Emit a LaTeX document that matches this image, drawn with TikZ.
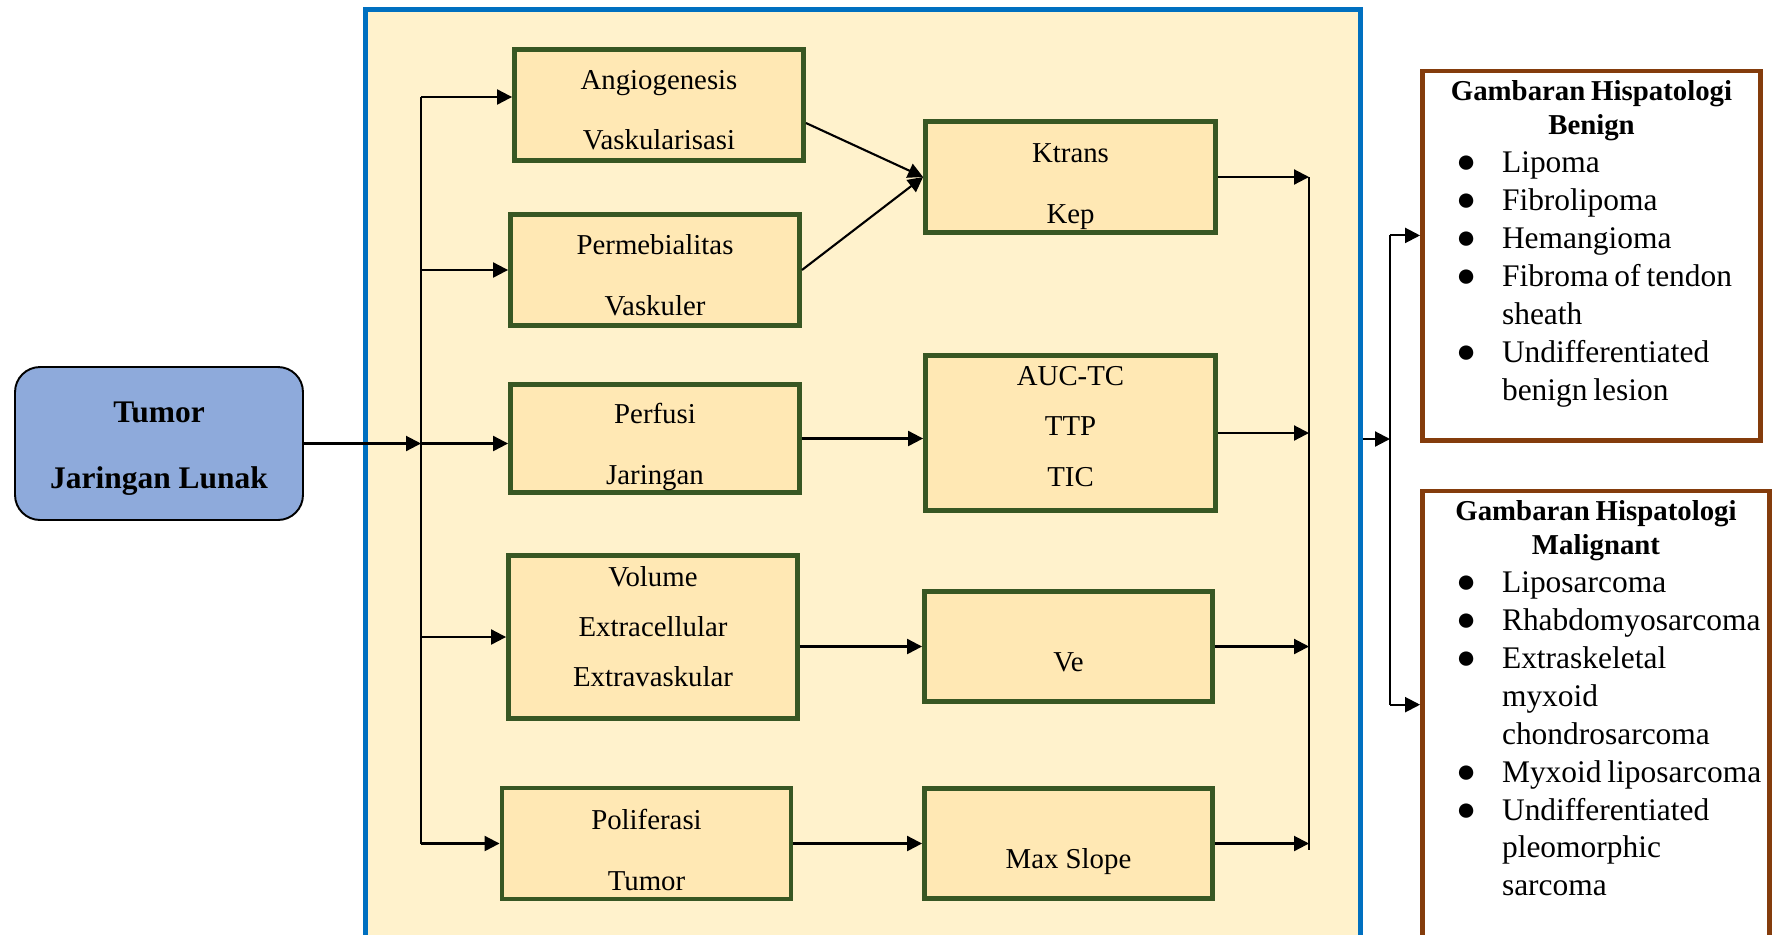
\documentclass[tikz,border=0pt]{standalone}
\usepackage{fontspec}
\setmainfont{Liberation Serif}
\usetikzlibrary{arrows.meta}
\definecolor{bingkai}{HTML}{0070C0}
\definecolor{latar}{HTML}{FFF2CC}
\definecolor{isi}{HTML}{FFE8B4}
\definecolor{hijau}{HTML}{385723}
\definecolor{coklat}{HTML}{843C0C}
\definecolor{biru}{HTML}{8EAADB}
\newcommand{\butir}{\par\noindent\llap{\makebox[0.92cm][l]{{\fontsize{19}{19}\selectfont ●}}}}
\newcommand{\judulhasil}[1]{{\bfseries\fontsize{16.4}{19.3}\selectfont\centering Gambaran Hispatologi\\#1\par}\fontsize{17.9}{21.6}\selectfont\leftskip=1.59cm\rightskip=0pt plus 1fil\parfillskip=0pt plus 1fil}
\begin{document}
\begin{tikzpicture}[x=0.02cm,y=-0.02cm,tumor/.style={draw=black,line width=1.1pt,fill=biru,rounded corners=0.5cm,minimum width=5.76cm,minimum height=3.06cm,align=center,font=\bfseries\fontsize{17.9}{37.4}\selectfont},proses/.style={draw=hijau,line width=2.8pt,fill=isi,minimum width=5.78cm,minimum height=2.22cm,align=center,text depth=0pt,font=\fontsize{16.4}{34.6}\selectfont},tigabaris/.style={font=\fontsize{16.4}{28.6}\selectfont},hasil/.style={draw=coklat,line width=2.8pt,fill=white,inner sep=0pt,anchor=north},alur/.style={line width=1.2pt,-{Triangle[length=0.3cm,width=0.3cm]}},garis/.style={line width=1.2pt}]
\useasboundingbox (0,0) rectangle (1773,934);
\node[draw=bingkai,line width=2.8pt,fill=latar,minimum width=19.9cm,minimum height=19.01cm] (frame) at (863,484.75) {};
\node[tumor,text height=1.78cm,text depth=0pt] (tumor) at (159,443.5) {Tumor\\Jaringan Lunak};
\node[proses,text height=1.8cm] (angio) at (659,105) {Angiogenesis\\Vaskularisasi};
\node[proses,text height=1.8cm] (permeb) at (655,270) {Permebialitas\\Vaskuler};
\node[proses,minimum height=2.16cm,text height=1.82cm] (perfusi) at (655,438.5) {Perfusi\\Jaringan};
\node[proses,tigabaris,minimum height=3.26cm,text height=1.99cm] (volume) at (653,637) {Volume\\Extracellular\\Extravaskular};
\node[proses,text height=1.86cm] (poliferasi) at (646.5,843.5) {Poliferasi\\Tumor};
\node[proses,minimum width=5.8cm,text height=1.84cm] (ktrans) at (1070.5,177) {Ktrans\\Kep};
\node[proses,tigabaris,minimum width=5.8cm,minimum height=3.1cm,text height=2.12cm] (auc) at (1070.5,433) {AUC-TC\\TTP\\TIC};
\node[proses,minimum width=5.76cm,minimum height=2.2cm,text height=1cm] (ve) at (1068.5,646.5) {Ve};
\node[proses,minimum width=5.76cm,minimum height=2.2cm,text height=1cm] (maxslope) at (1068.5,843.5) {Max Slope};
\node[hasil,text width=6.76cm,text height=0.59cm,text depth=6.81cm] (benign) at (1591.5,68.5) {\judulhasil{Benign}\butir Lipoma\butir Fibrolipoma\butir Hemangioma\butir Fibroma of tendon\\sheath\butir Undifferentiated\\benign lesion\par};
\node[hasil,text width=6.94cm,text height=0.59cm,text depth=8.84cm] (malignant) at (1596,488.5) {\judulhasil{Malignant}\butir Liposarcoma\butir Rhabdomyosarcoma\butir Extraskeletal\\myxoid\\chondrosarcoma\butir Myxoid liposarcoma\butir Undifferentiated\\pleomorphic\\sarcoma\par};
\coordinate (hub) at (421,443.5);
\coordinate (angioin) at ([yshift=0.16cm]angio.west);
\coordinate (kumpul) at (1309,177);
\coordinate (split) at (1390,439);
\coordinate (benignin) at ([yshift=0.41cm]benign.west);
\coordinate (malignantin) at ([yshift=0.44cm]malignant.west);
\draw[alur] (tumor.east) -- (hub);
\draw[garis] (hub |- angioin) -- (hub |- poliferasi.west);
\draw[alur] (hub |- angioin) -- (angioin);
\draw[alur] (hub |- permeb.west) -- (permeb.west);
\draw[alur] (hub) -- (hub -| perfusi.west);
\draw[alur] (hub |- volume.west) -- (volume.west);
\draw[alur] (hub |- poliferasi.west) -- (poliferasi.west);
\draw[alur] ([yshift=-0.36cm]angio.east) -- (ktrans.west);
\draw[alur] (permeb.east) -- (ktrans.west);
\draw[alur] (perfusi.east) -- (perfusi.east -| auc.west);
\draw[alur] (volume.east |- ve.west) -- (ve.west);
\draw[alur] (poliferasi.east) -- (poliferasi.east -| maxslope.west);
\draw[garis] (kumpul |- ktrans.east) -- ([yshift=-0.12cm]kumpul |- maxslope.east);
\draw[alur] (ktrans.east) -- (kumpul |- ktrans.east);
\draw[alur] (auc.east) -- (kumpul |- auc.east);
\draw[alur] (ve.east) -- (kumpul |- ve.east);
\draw[alur] (maxslope.east) -- (kumpul |- maxslope.east);
\draw[alur] (frame.east |- split) -- (split);
\draw[garis] (split |- benignin) -- (split |- malignantin);
\draw[alur] (split |- benignin) -- (benignin);
\draw[alur] (split |- malignantin) -- (malignantin);
\end{tikzpicture}
\end{document}
